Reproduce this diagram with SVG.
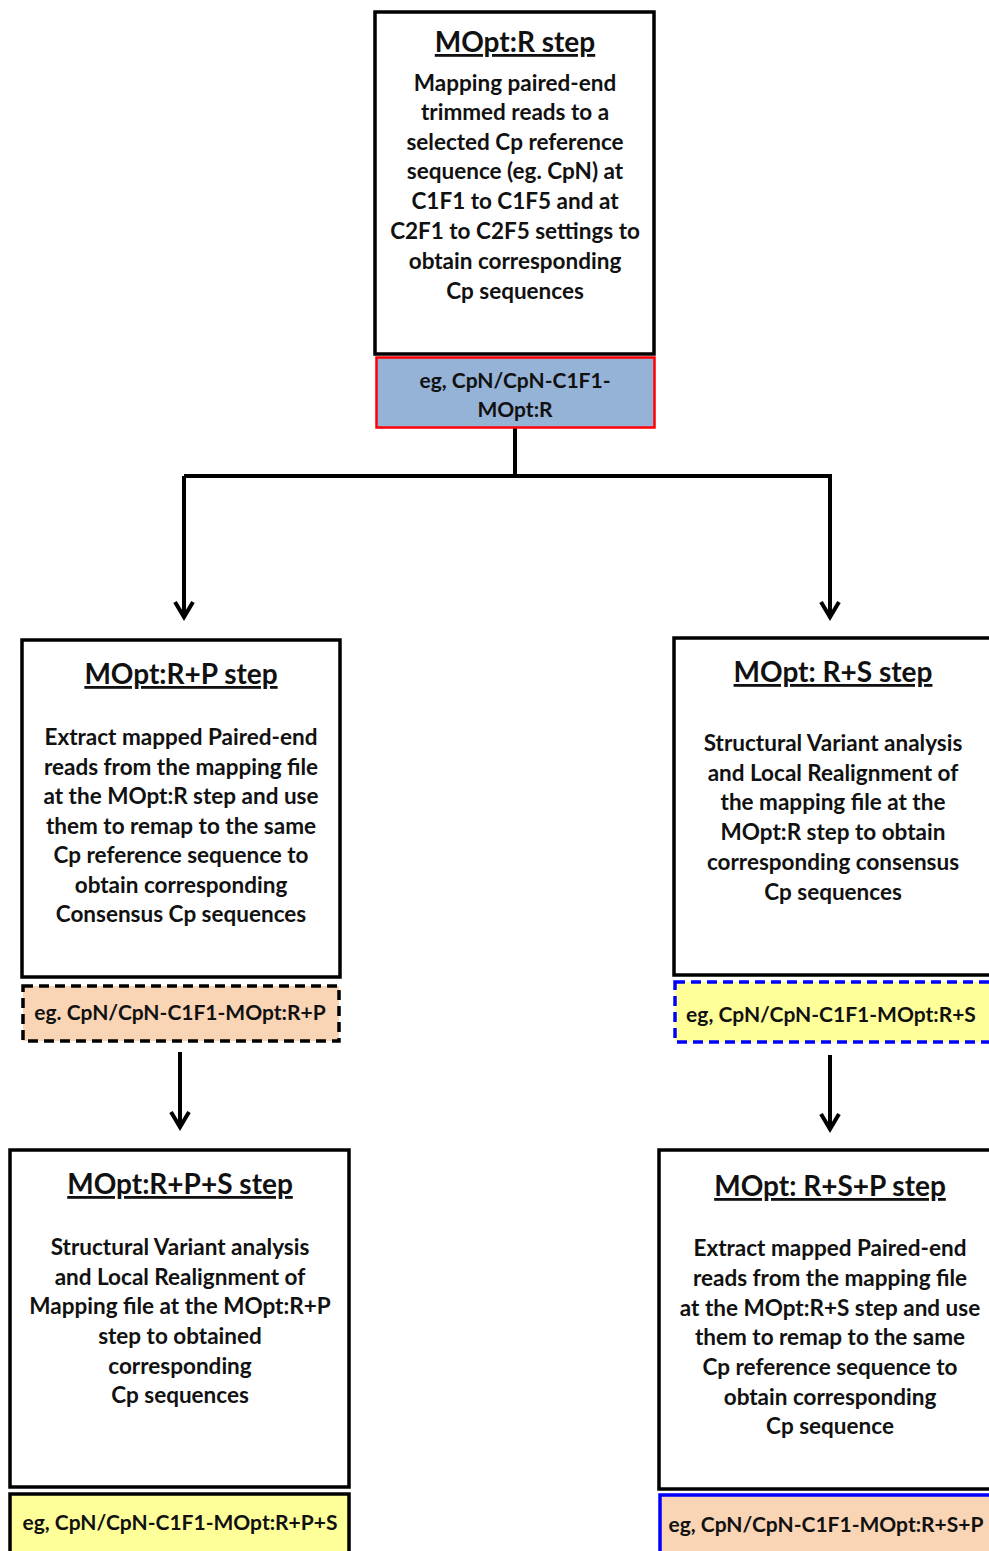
<svg xmlns="http://www.w3.org/2000/svg" width="989" height="1551" viewBox="0 0 989 1551">
<defs>
<style>
text{font-family:Lato,"Liberation Sans",sans-serif;font-weight:bold;fill:#111;text-anchor:middle}
.t{font-size:28px;text-decoration:underline}
.b{font-size:22.5px}
.l{font-size:21px}
.box{fill:#fff;stroke:#000;stroke-width:3.5}
.conn{stroke:#000;stroke-width:4;fill:none}
</style>
</defs>
<rect width="989" height="1551" fill="#fff"/>
<g id="connectors">
<path class="conn" d="M515,428V476M184,476H830M184,476V618M830,474V618"/>
<path class="conn" d="M175,602L184,617L193,602M821,602L830,617L839,602"/>
<path class="conn" d="M180,1052V1127M171,1112L180,1127L189,1112"/>
<path class="conn" d="M830,1055V1129M821,1114L830,1129L839,1114"/>
</g>
<g id="n-r">
<rect class="box" x="375" y="12" width="279" height="342"/>
<text class="t" x="515" y="52">MOpt:R step</text>
<text class="b" x="515" y="91">Mapping paired-end</text>
<text class="b" x="515" y="120">trimmed reads to a</text>
<text class="b" x="515" y="150">selected Cp reference</text>
<text class="b" x="515" y="179">sequence (eg. CpN) at</text>
<text class="b" x="515" y="209">C1F1 to C1F5 and at</text>
<text class="b" x="515" y="239">C2F1 to C2F5 settings to</text>
<text class="b" x="515" y="269">obtain corresponding</text>
<text class="b" x="515" y="299">Cp sequences</text>
</g>
<g id="o-r">
<rect x="376.5" y="357.5" width="278" height="70" fill="#95b3d7" stroke="#ff0000" stroke-width="2.5"/>
<text class="l" x="515" y="388">eg, CpN/CpN-C1F1-</text>
<text class="l" x="515" y="417">MOpt:R</text>
</g>
<g id="n-rp">
<rect class="box" x="22" y="640" width="318" height="337"/>
<text class="t" x="181" y="684">MOpt:R+P step</text>
<text class="b" x="181" y="745">Extract mapped Paired-end</text>
<text class="b" x="181" y="775">reads from the mapping file</text>
<text class="b" x="181" y="804">at the MOpt:R step and use</text>
<text class="b" x="181" y="834">them to remap to the same</text>
<text class="b" x="181" y="863">Cp reference sequence to</text>
<text class="b" x="181" y="893">obtain corresponding</text>
<text class="b" x="181" y="922">Consensus Cp sequences</text>
</g>
<g id="o-rp">
<rect x="23" y="986" width="316" height="55" fill="#fad5b5" stroke="#000" stroke-width="3.5" stroke-dasharray="10,6"/>
<text class="l" x="180" y="1020">eg. CpN/CpN-C1F1-MOpt:R+P</text>
</g>
<g id="n-rs">
<rect class="box" x="674" y="638" width="320" height="337"/>
<text class="t" x="833" y="682">MOpt: R+S step</text>
<text class="b" x="833" y="751">Structural Variant analysis</text>
<text class="b" x="833" y="781">and Local Realignment of</text>
<text class="b" x="833" y="810">the mapping file at the</text>
<text class="b" x="833" y="840">MOpt:R step to obtain</text>
<text class="b" x="833" y="870">corresponding consensus</text>
<text class="b" x="833" y="900">Cp sequences</text>
</g>
<g id="o-rs">
<rect x="675" y="982" width="320" height="60" fill="#ffff99" stroke="#0000ff" stroke-width="3.5" stroke-dasharray="10,6"/>
<text class="l" x="831" y="1022">eg, CpN/CpN-C1F1-MOpt:R+S</text>
</g>
<g id="n-rps">
<rect class="box" x="10" y="1150" width="339" height="337"/>
<text class="t" x="180" y="1194">MOpt:R+P+S step</text>
<text class="b" x="180" y="1255">Structural Variant analysis</text>
<text class="b" x="180" y="1285">and Local Realignment of</text>
<text class="b" x="180" y="1314">Mapping file at the MOpt:R+P</text>
<text class="b" x="180" y="1344">step to obtained</text>
<text class="b" x="180" y="1374">corresponding</text>
<text class="b" x="180" y="1403">Cp sequences</text>
</g>
<g id="o-rps">
<rect x="10" y="1494" width="339" height="62" fill="#ffff99" stroke="#000" stroke-width="3.5"/>
<text class="l" x="180" y="1530">eg, CpN/CpN-C1F1-MOpt:R+P+S</text>
</g>
<g id="n-rsp">
<rect class="box" x="659" y="1150" width="335" height="339"/>
<text class="t" x="830" y="1196">MOpt: R+S+P step</text>
<text class="b" x="830" y="1256">Extract mapped Paired-end</text>
<text class="b" x="830" y="1286">reads from the mapping file</text>
<text class="b" x="830" y="1316">at the MOpt:R+S step and use</text>
<text class="b" x="830" y="1345">them to remap to the same</text>
<text class="b" x="830" y="1375">Cp reference sequence to</text>
<text class="b" x="830" y="1405">obtain corresponding</text>
<text class="b" x="830" y="1434">Cp sequence</text>
</g>
<g id="o-rsp">
<rect x="660" y="1495" width="335" height="62" fill="#fad5b5" stroke="#0000ff" stroke-width="3.5"/>
<text class="l" x="826" y="1532">eg, CpN/CpN-C1F1-MOpt:R+S+P</text>
</g>
</svg>
